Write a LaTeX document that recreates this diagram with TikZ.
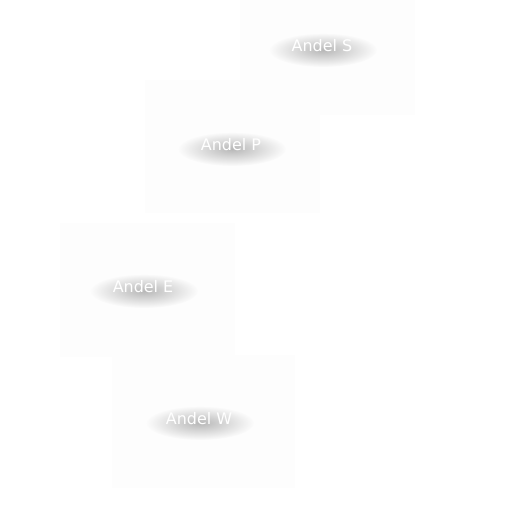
\documentclass[tikz,border=0pt]{standalone}
\usepackage{fontspec}
\setmainfont{DejaVu Sans}
\usetikzlibrary{calc,fadings}
\tikzfading[name=glowfade, inner color=transparent!10, outer color=transparent!100]
\definecolor{boxfill}{HTML}{FDFDFD}
\definecolor{glowcol}{HTML}{B0B0B0}
\tikzset{
  panel/.style={fill=boxfill, draw=none, inner sep=0pt, anchor=north west},
  lbl/.style={text=white, font=\fontsize{16}{18}\selectfont, inner sep=0pt},
  glow/.style={fill=glowcol, path fading=glowfade},
}
\newcommand{\glowlabel}[3]{%
  \fill[glow] ($(#2)+(1,-4)$) ellipse (54 and 17);
  \node[lbl] (#1) at (#2) {#3};
}
\begin{document}
\begin{tikzpicture}[x=1bp,y=1bp]
\useasboundingbox (0,0) rectangle (512,512);
\fill[white] (0,0) rectangle (512,512);
\node[panel, minimum width=175bp, minimum height=115bp] (boxS) at (240,512) {};
\node[panel, minimum width=175bp, minimum height=133bp] (boxP) at (145,432) {};
\node[panel, minimum width=175bp, minimum height=134bp] (boxE) at (60,289) {};
\node[panel, minimum width=183bp, minimum height=133bp] (boxW) at (112,157) {};
\glowlabel{labS}{322,466}{Andel S}
\glowlabel{labP}{231,367}{Andel P}
\glowlabel{labE}{143,225}{Andel E}
\glowlabel{labW}{199,93}{Andel W}
\end{tikzpicture}
\end{document}
